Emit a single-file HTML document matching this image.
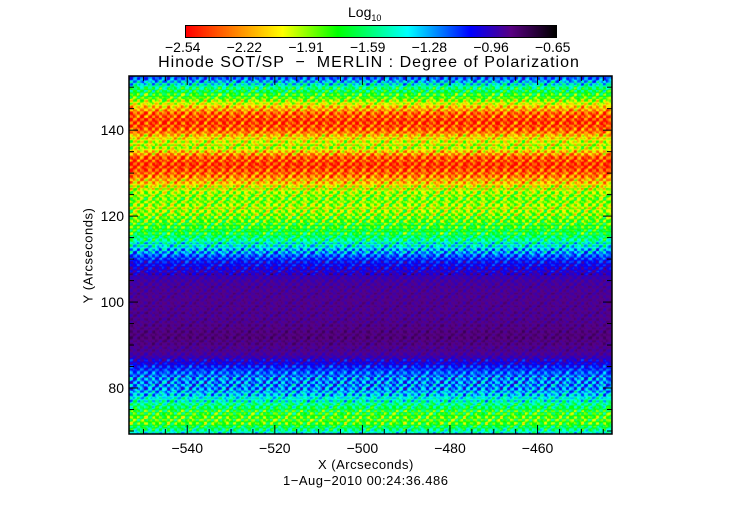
<!DOCTYPE html>
<html><head><meta charset="utf-8"><style>
body{margin:0;background:#fff;width:740px;height:512px;overflow:hidden;position:relative;font-family:"Liberation Sans",sans-serif;}
.t{position:absolute;font-size:13px;color:#000;white-space:nowrap;}
</style></head><body>
<canvas id="cbar" width="370" height="11" style="position:absolute;left:185px;top:25px;border:1px solid #000;box-sizing:content-box"></canvas>
<div class="t" style="left:348px;top:4px;font-size:14px">Log<sub style="font-size:9px">10</sub></div>
<div id="cbl"></div>
<div class="t" style="left:0;width:740px;text-align:center;top:54px;font-size:16px;letter-spacing:1px;"><span style="position:relative;left:-1px">Hinode SOT/SP &nbsp;&minus;&nbsp; MERLIN : Degree of Polarization</span></div>
<canvas id="plot" width="483" height="358" style="position:absolute;left:129px;top:76px"></canvas>
<svg id="ax" width="740" height="512" style="position:absolute;left:0;top:0"></svg>
<div class="t" style="left:318px;top:457px;letter-spacing:0.5px">X (Arcseconds)</div>
<div class="t" style="left:283px;top:473px;letter-spacing:0.5px">1&minus;Aug&minus;2010 00:24:36.486</div>
<div class="t" style="left:40px;top:248px;transform:rotate(-90deg);transform-origin:center;letter-spacing:0.5px">Y (Arcseconds)</div>
<script>
const cbarLabels=["−2.54","−2.22","−1.91","−1.59","−1.28","−0.96","−0.65"];
const xTicks=[-540,-520,-500,-480,-460];
const yTicks=[80,100,120,140];
const profileY=[153,152,150,148,146,144,142,140,138,136,134,132,130,128,126,124,122,120,118,116,114,112,110,108,106,104,100,96,92,88,86,84,82,80,78,76,74,72,70,69];
const profileV=[0.72,0.7,0.5,0.4,0.25,0.1,0.05,0.1,0.25,0.3,0.1,0.05,0.1,0.2,0.3,0.35,0.3,0.35,0.4,0.45,0.55,0.65,0.75,0.8,0.84,0.86,0.87,0.87,0.89,0.86,0.8,0.72,0.68,0.68,0.6,0.5,0.4,0.38,0.55,0.6];
const X0=129,X1=612,Y0=76,Y1=434,xmin=-553.3,xmax=-443,ymin=69.3,ymax=152.6;
const xs=v=>X0+(v-xmin)/(xmax-xmin)*(X1-X0);
const ys=v=>Y1-(v-ymin)/(ymax-ymin)*(Y1-Y0);
const stops=[[0,255,0,0],[0.12,255,120,0],[0.26,255,255,0],[0.41,0,255,0],[0.6,0,255,255],[0.77,0,0,255],[0.88,90,0,130],[1,0,0,0]];
function cmap(t){t=Math.max(0,Math.min(1,t));for(let i=1;i<stops.length;i++){if(t<=stops[i][0]){const a=stops[i-1],b=stops[i],f=(t-a[0])/(b[0]-a[0]);return[a[1]+f*(b[1]-a[1]),a[2]+f*(b[2]-a[2]),a[3]+f*(b[3]-a[3])];}}return[0,0,0];}
function prof(y){for(let i=1;i<profileY.length;i++){if(y>=profileY[i]){const f=(y-profileY[i])/(profileY[i-1]-profileY[i]);return profileV[i]+f*(profileV[i-1]-profileV[i]);}}return profileV[profileV.length-1];}
const cb=document.getElementById('cbar').getContext('2d');
for(let i=0;i<370;i++){const c=cmap(i/369);cb.fillStyle=`rgb(${c[0]|0},${c[1]|0},${c[2]|0})`;cb.fillRect(i,0,1,11);}
const cbl=document.getElementById('cbl');
cbarLabels.forEach((s,i)=>{const d=document.createElement('div');d.className='t';


d.style.left=(185+i*370/6-20)+'px';d.style.top='39px';d.style.fontSize='14px';d.textContent=s;cbl.appendChild(d);});
const pc=document.getElementById('plot').getContext('2d');
const W=483,H=358,img=pc.createImageData(W,H);
for(let py=0;py<H;py++){const yv=ymax-(py/H)*(ymax-ymin);const base=prof(yv);
const amp=base>0.83?0.035:(base>0.7?0.09:0.15);
for(let px=0;px<W;px++){const ph=(px%7.4)/7.4;const cy=Math.floor(py/7);
const saw=(ph<0.45?1:-0.6);
const tex=amp*(0.8*saw*Math.sin(py*0.85+cy)+0.5*Math.sin(px*0.6+py*0.4)*Math.cos(py*0.3+px*0.07));
const c=cmap(base+tex);const k=(py*W+px)*4;img.data[k]=c[0];img.data[k+1]=c[1];img.data[k+2]=c[2];img.data[k+3]=255;}}
pc.putImageData(img,0,0);
const svg=document.getElementById('ax');let h='';
h+=`<rect x="${X0}" y="${Y0}" width="${X1-X0}" height="${Y1-Y0}" fill="none" stroke="#000" stroke-width="1.5"/>`;
for(let v=-550;v<=-445;v+=5){const x=xs(v),L=(v%20===0)?9:5;h+=`<line x1="${x}" y1="${Y1}" x2="${x}" y2="${Y1-L}" stroke="#000"/><line x1="${x}" y1="${Y0}" x2="${x}" y2="${Y0+L}" stroke="#000"/>`;}
for(let v=70;v<=150;v+=5){const y=ys(v),L=(v%20===0)?9:5;h+=`<line x1="${X0}" y1="${y}" x2="${X0+L}" y2="${y}" stroke="#000"/><line x1="${X1}" y1="${y}" x2="${X1-L}" y2="${y}" stroke="#000"/>`;}
xTicks.forEach(v=>{h+=`<text x="${xs(v)}" y="${Y1+19}" text-anchor="middle" font-family="Liberation Sans" font-size="14">${String(v).replace('-','−')}</text>`;});
yTicks.forEach(v=>{h+=`<text x="${X0-5}" y="${ys(v)+5}" text-anchor="end" font-family="Liberation Sans" font-size="14">${v}</text>`;});
svg.innerHTML=h;
</script>
</body></html>
